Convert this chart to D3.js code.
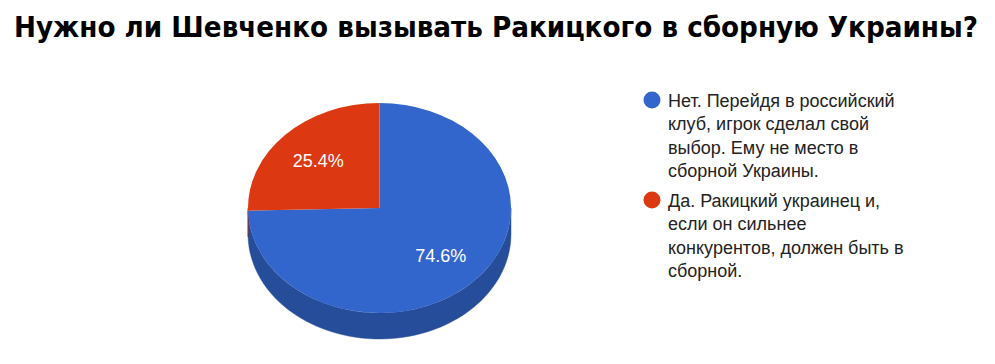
<!DOCTYPE html>
<html><head><meta charset="utf-8">
<script src="https://cdn.jsdelivr.net/npm/d3@7"></script>
<style>body{margin:0;background:#fff}svg{display:block}</style>
</head><body>
<svg id="c" width="995" height="364"></svg>
<script>
const title = "Нужно ли Шевченко вызывать Ракицкого в сборную Украины?";
const categories = [
  "Нет. Перейдя в российский клуб, игрок сделал свой выбор. Ему не место в сборной Украины.",
  "Да. Ракицкий украинец и, если он сильнее конкурентов, должен быть в сборной."
];
const values = [74.6, 25.4];
const colors = ["#3366cc", "#dc3912"];
const sideColors = ["#264d99", "#a52b0e"];

const svg = d3.select("#c");

// title
svg.append("text").attr("x", 496).attr("y", 37)
  .attr("text-anchor", "middle")
  .attr("font-family", "'DejaVu Sans Condensed','DejaVu Sans',sans-serif")
  .attr("font-weight", "bold").attr("font-size", 28).attr("fill", "#000")
  .attr("textLength", 964).attr("lengthAdjust", "spacingAndGlyphs")
  .text(title);

// pie geometry
const cx = 379.5, cy = 208, rx = 131.5, ry = 105, depth = 26;
const k = ry / rx;
const pie = d3.pie().sort(null).value(d => d)(values);
const arc = d3.arc().innerRadius(0).outerRadius(rx);

const g = svg.append("g").attr("transform", `translate(${cx},${cy}) scale(1,${k})`);
const dz = depth / k;
const pt = (a, r, off = 0) => [r * Math.sin(a), -r * Math.cos(a) + off];

// sides (front half: angles PI/2 .. 3PI/2)
pie.forEach((p, i) => {
  const a1 = Math.max(p.startAngle, Math.PI / 2), a2 = Math.min(p.endAngle, 3 * Math.PI / 2);
  if (a2 <= a1) return;
  const n = 60;
  const top = d3.range(n + 1).map(j => pt(a1 + (a2 - a1) * j / n, rx));
  const bot = d3.range(n + 1).map(j => pt(a2 - (a2 - a1) * j / n, rx, dz));
  g.append("path").attr("d", d3.line()(top.concat(bot)) + "Z")
    .attr("fill", sideColors[i]).attr("stroke", sideColors[i]).attr("stroke-width", 0.5);
});
// top faces
g.selectAll("path.top").data(pie).join("path").attr("class", "top")
  .attr("d", arc).attr("fill", (d, i) => colors[i]);

// slice labels
const lf = 0.65;
svg.selectAll("text.lbl").data(pie).join("text").attr("class", "lbl")
  .attr("x", d => cx + lf * rx * Math.sin((d.startAngle + d.endAngle) / 2))
  .attr("y", d => cy - lf * ry * Math.cos((d.startAngle + d.endAngle) / 2) + 6.5)
  .attr("text-anchor", "middle").attr("fill", "#fff")
  .attr("font-family", "Arial,'Liberation Sans',sans-serif").attr("font-size", 18)
  .text(d => (d.data).toFixed(1) + "%");

// legend
const lx = 652, tx = 668, lineH = 23.5, maxW = 245, gap = 6;
let y = 100;
categories.forEach((c, i) => {
  svg.append("circle").attr("cx", lx).attr("cy", y).attr("r", 8.5).attr("fill", colors[i]);
  const words = c.split(" ");
  const txt = svg.append("text").attr("font-family", "Arial,'Liberation Sans',sans-serif")
    .attr("font-size", 18).attr("fill", "#222");
  let line = [], ts = txt.append("tspan").attr("x", tx).attr("y", y + 6.5), ly = y;
  words.forEach(w => {
    line.push(w);
    ts.text(line.join(" "));
    if (ts.node().getComputedTextLength() > maxW && line.length > 1) {
      line.pop(); ts.text(line.join(" "));
      line = [w]; ly += lineH;
      ts = txt.append("tspan").attr("x", tx).attr("y", ly + 6.5).text(w);
    }
  });
  y = ly + lineH + gap;
});
</script>
</body></html>
